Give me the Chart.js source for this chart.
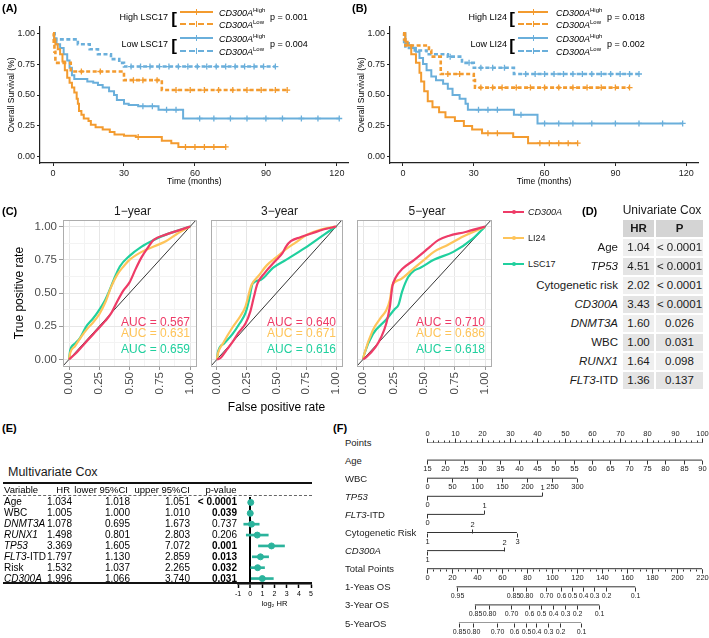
<!DOCTYPE html>
<html>
<head>
<meta charset="utf-8">
<script src="https://cdn.jsdelivr.net/npm/chart.js@4.4.1/dist/chart.umd.min.js"></script>
<style>
body { margin: 0; background: #fff; }
#fig { position: relative; width: 709px; height: 638px; overflow: hidden; font-family: "Liberation Sans", Arial, sans-serif; color: #000; }
canvas { position: absolute; }
.t { position: absolute; white-space: nowrap; line-height: 1; }
.t sup { font-size: 6px; vertical-align: 4px; font-style: normal; }
</style>
</head>
<body>
<div id="fig">
  <canvas id="kmA" width="354" height="190" style="left:0;top:0"></canvas>
  <canvas id="kmB" width="359" height="190" style="left:350px;top:0"></canvas>
  <canvas id="roc1" width="206" height="215" style="left:0;top:200px"></canvas>
  <canvas id="roc3" width="146" height="215" style="left:206px;top:200px"></canvas>
  <canvas id="roc5" width="149" height="215" style="left:352px;top:200px"></canvas>
  <canvas id="forest" width="90" height="120" style="left:230px;top:490px"></canvas>
  <canvas id="nomo" width="289" height="213" style="left:420px;top:425px"></canvas>
</div>
<script>

// =======================
// DATA
// =======================

const kmTicksX = [0, 30, 60, 90, 120];
const kmTicksY = [0, 0.25, 0.5, 0.75, 1];

// (A) LSC17 groups
const aHighHighT = [0, 0.5, 1, 2, 3, 4, 5, 6, 7, 8, 9, 10, 10.5, 11, 12, 13, 15, 16, 18, 21, 24, 26, 30, 35, 46, 50, 53, 73];
const aHighHighS = [1, 0.95, 0.91, 0.87, 0.83, 0.77, 0.7, 0.64, 0.6, 0.56, 0.52, 0.47, 0.43, 0.37, 0.34, 0.31, 0.29, 0.26, 0.24, 0.22, 0.2, 0.18, 0.17, 0.16, 0.13, 0.11, 0.08, 0.08];
const aHighHighCens = [36, 56, 60, 64, 68, 73];
const aHighLowT = [0, 0.3, 0.6, 1, 7.5, 30, 46, 99];
const aHighLowS = [1, 0.92, 0.85, 0.76, 0.69, 0.62, 0.54, 0.54];
const aHighLowCens = [12, 20, 34, 38, 44, 52, 58, 64, 70, 76, 82, 88, 94, 99];
const aLowHighT = [0, 0.5, 1.5, 3, 4.5, 6, 7, 8, 9, 14.5, 17, 19, 21, 23.7, 25.8, 27, 30, 32, 36, 44.6, 55, 121];
const aLowHighS = [1, 0.96, 0.91, 0.88, 0.83, 0.78, 0.72, 0.66, 0.63, 0.61, 0.6, 0.58, 0.56, 0.53, 0.5, 0.46, 0.43, 0.42, 0.41, 0.38, 0.31, 0.31];
const aLowHighCens = [38, 42, 48, 52, 62, 68, 75, 82, 90, 97, 105, 112, 121];
const aLowLowT = [0, 0.7, 10.5, 15.5, 19, 24.5, 28, 30, 94];
const aLowLowS = [1, 0.95, 0.91, 0.87, 0.83, 0.79, 0.76, 0.73, 0.73];
const aLowLowCens = [33, 37, 41, 45, 49, 53, 57, 61, 65, 69, 73, 77, 81, 85, 89, 94];

// (B) LI24 groups
const bHighHighT = [0, 1, 2, 3.5, 5.5, 7, 7.7, 9, 10.5, 12.5, 15.3, 18, 22, 25.8, 29.3, 33.5, 46.7, 53, 74];
const bHighHighS = [1, 0.93, 0.9, 0.83, 0.76, 0.68, 0.61, 0.53, 0.45, 0.4, 0.36, 0.32, 0.29, 0.25, 0.22, 0.19, 0.16, 0.11, 0.11];
const bHighHighCens = [36, 40, 58, 62, 66, 70, 74];
const bHighLowT = [0, 0.5, 1, 11, 12, 16, 30, 30.5, 96];
const bHighLowS = [1, 0.95, 0.9, 0.86, 0.81, 0.67, 0.62, 0.56, 0.56];
const bHighLowCens = [19, 24, 33, 38, 42, 48, 54, 60, 66, 72, 78, 84, 90, 96];
const bLowHighT = [0, 1, 2.5, 4, 5.5, 7, 8.5, 10, 12, 14, 17, 19, 21, 24, 26.5, 27.5, 46, 47, 56, 57, 118.5];
const bLowHighS = [1, 0.92, 0.9, 0.88, 0.85, 0.8, 0.75, 0.7, 0.65, 0.62, 0.59, 0.55, 0.5, 0.47, 0.43, 0.38, 0.38, 0.34, 0.34, 0.27, 0.27];
const bLowHighCens = [32, 36, 40, 50, 60, 66, 72, 80, 90, 100, 110, 118.5];
const bLowLowT = [0, 0.5, 1, 5, 10, 19, 25, 30, 47, 100];
const bLowLowS = [1, 0.93, 0.88, 0.86, 0.83, 0.81, 0.76, 0.72, 0.67, 0.67];
const bLowLowCens = [20, 28, 33, 38, 43, 52, 56, 60, 64, 68, 72, 76, 80, 84, 88, 92, 96, 100];

// (C) ROC curves
const rocTicks = [0, 0.125, 0.25, 0.375, 0.5, 0.625, 0.75, 0.875, 1];
const cd300a1yFpr = [0, 0.05, 0.1, 0.2, 0.3, 0.35, 0.4, 0.45, 0.5, 0.55, 0.6, 0.65, 0.7, 0.8, 0.9, 1];
const cd300a1yTpr = [0, 0.04, 0.09, 0.19, 0.29, 0.35, 0.44, 0.52, 0.58, 0.68, 0.77, 0.84, 0.9, 0.94, 0.97, 1];
const li241yFpr = [0, 0.01, 0.05, 0.1, 0.15, 0.2, 0.25, 0.3, 0.35, 0.4, 0.45, 0.5, 0.6, 0.7, 0.8, 0.9, 1];
const li241yTpr = [0, 0.05, 0.1, 0.17, 0.23, 0.28, 0.34, 0.43, 0.55, 0.64, 0.7, 0.75, 0.81, 0.85, 0.89, 0.95, 1];
const lsc171yFpr = [0, 0.01, 0.05, 0.09, 0.14, 0.2, 0.24, 0.3, 0.33, 0.37, 0.42, 0.5, 0.6, 0.7, 0.8, 0.9, 1];
const lsc171yTpr = [0, 0.07, 0.12, 0.16, 0.245, 0.31, 0.36, 0.45, 0.51, 0.6, 0.7, 0.78, 0.85, 0.9, 0.94, 0.97, 1];

const cd300a3yFpr = [0, 0.03, 0.08, 0.13, 0.18, 0.24, 0.28, 0.31, 0.34, 0.4, 0.5, 0.55, 0.58, 0.62, 0.7, 0.8, 0.9, 1];
const cd300a3yTpr = [0, 0.01, 0.07, 0.13, 0.2, 0.27, 0.36, 0.47, 0.57, 0.65, 0.75, 0.8, 0.85, 0.89, 0.92, 0.95, 0.98, 1];
const li243yFpr = [0, 0.01, 0.05, 0.13, 0.2, 0.24, 0.29, 0.35, 0.42, 0.5, 0.58, 0.66, 0.76, 0.88, 1];
const li243yTpr = [0, 0.05, 0.12, 0.24, 0.33, 0.4, 0.56, 0.63, 0.71, 0.77, 0.83, 0.88, 0.94, 0.98, 1];
const lsc173yFpr = [0, 0.01, 0.06, 0.13, 0.19, 0.24, 0.27, 0.3, 0.37, 0.47, 0.58, 0.74, 0.9, 1];
const lsc173yTpr = [0, 0.06, 0.12, 0.19, 0.27, 0.35, 0.45, 0.57, 0.6, 0.69, 0.75, 0.84, 0.94, 1];

const cd300a5yFpr = [0, 0.03, 0.1, 0.15, 0.19, 0.22, 0.24, 0.27, 0.32, 0.42, 0.5, 0.55, 0.62, 0.7, 0.84, 1];
const cd300a5yTpr = [0, 0.02, 0.09, 0.17, 0.27, 0.4, 0.55, 0.62, 0.68, 0.75, 0.81, 0.85, 0.9, 0.93, 0.96, 1];
const li245yFpr = [0, 0.01, 0.08, 0.15, 0.19, 0.22, 0.24, 0.3, 0.42, 0.5, 0.58, 0.69, 0.82, 1];
const li245yTpr = [0, 0.04, 0.22, 0.32, 0.37, 0.45, 0.56, 0.6, 0.69, 0.75, 0.81, 0.86, 0.925, 1];
const lsc175yFpr = [0, 0.01, 0.08, 0.19, 0.26, 0.29, 0.32, 0.37, 0.42, 0.47, 0.58, 0.74, 0.9, 1];
const lsc175yTpr = [0, 0.04, 0.19, 0.3, 0.38, 0.41, 0.51, 0.62, 0.67, 0.69, 0.75, 0.81, 0.91, 1];

const auc1y = ["AUC = 0.567", "AUC = 0.631", "AUC = 0.659"];
const auc3y = ["AUC = 0.640", "AUC = 0.671", "AUC = 0.616"];
const auc5y = ["AUC = 0.710", "AUC = 0.686", "AUC = 0.618"];

// (D) univariate Cox
const uniVars = ["Age", "<i>TP53</i>", "Cytogenetic risk", "<i>CD300A</i>", "<i>DNMT3A</i>", "WBC", "<i>RUNX1</i>", "<i>FLT3</i>-ITD"];
const uniHR = ["1.04", "4.51", "2.02", "3.43", "1.60", "1.00", "1.64", "1.36"];
const uniP = ["< 0.0001", "< 0.0001", "< 0.0001", "< 0.0001", "0.026", "0.031", "0.098", "0.137"];

// (E) multivariate Cox
const mvVars = ["Age", "WBC", "<i>DNMT3A</i>", "<i>RUNX1</i>", "<i>TP53</i>", "<i>FLT3</i>-ITD", "Risk", "<i>CD300A</i>"];
const mvHR = [1.034, 1.005, 1.078, 1.498, 3.369, 1.797, 1.532, 1.996];
const mvLower = [1.018, 1.000, 0.695, 0.801, 1.605, 1.130, 1.037, 1.066];
const mvUpper = [1.051, 1.010, 1.673, 2.803, 7.072, 2.859, 2.265, 3.740];
const mvP = ["< 0.0001", "0.039", "0.737", "0.206", "0.001", "0.013", "0.032", "0.031"];
const mvBold = [true, true, false, false, true, true, true, true];
const forestTicks = [-1, 0, 1, 2, 3, 4, 5];

// (F) nomogram
const nomoNames = ["Points", "Age", "WBC", "<i>TP53</i>", "<i>FLT3</i>-ITD", "Cytogenetic Risk", "<i>CD300A</i>", "Total Points", "1-Yeas OS", "3-Year OS", "5-YearOS"];
const pointsTicks = [0, 10, 20, 30, 40, 50, 60, 70, 80, 90, 100];
const ageTicks = [15, 20, 25, 30, 35, 40, 45, 50, 55, 60, 65, 70, 75, 80, 85, 90];
const wbcTicks = [0, 50, 100, 150, 200, 250, 300];
const wbcMaxPts = 54.5;
const tp53Ticks = [0, 1], tp53Pts = [0, 41.8], tp53Side = ["b", "a"];
const flt3Ticks = [0, 1], flt3Pts = [0, 20.7], flt3Side = ["b", "a"];
const cytoTicks = [1, 2, 3], cytoPts = [0, 16.4, 32.7], cytoSide = ["b", "a", "b"];
const cd300aTicks = [1, 2], cd300aPts = [0, 28.0], cd300aSide = ["b", "a"];
const totalTicks = [0, 20, 40, 60, 80, 100, 120, 140, 160, 180, 200, 220];
const os1Labels = ["0.95", "0.85", "0.80", "0.70", "0.6", "0.5", "0.4", "0.3", "0.2", "0.1"];
const os1Total = [23.6, 68.8, 79.4, 94.9, 107.1, 115.9, 124.6, 133.4, 143.2, 166.6];
const os3Labels = ["0.85", "0.80", "0.70", "0.6", "0.5", "0.4", "0.3", "0.2", "0.1"];
const os3Total = [38.3, 49.6, 67.5, 81.3, 91.4, 100.7, 110.0, 119.8, 137.9];
const os5Labels = ["0.85", "0.80", "0.70", "0.6", "0.5", "0.4", "0.3", "0.2", "0.1"];
const os5Total = [25.5, 36.8, 55.6, 69.3, 79.2, 87.4, 96.7, 106.3, 123.3];

// =======================
// COLORS / HELPERS
// =======================

const ORANGE = "#F39B2F", BLUE = "#6AAFDB";
const RED = "#EE3B67", YELLOW = "#FEC45A", GREEN = "#20D09E", TEAL = "#2BB39C";
const FONT = '"Liberation Sans", Arial, sans-serif';

Chart.defaults.font.family = FONT;
Chart.defaults.animation = false;

const fig = document.getElementById("fig");

function txt(x, y, html, o = {}) {
  const d = document.createElement("div");
  d.className = "t";
  d.innerHTML = html;
  d.style.left = x + "px";
  d.style.top = y + "px";
  const a = o.a || "l";
  d.style.transform = "translate(" + (a === "l" ? "0" : a === "c" ? "-50%" : "-100%") + ",-50%)";
  d.style.fontSize = (o.s || 10) + "px";
  if (o.b) d.style.fontWeight = "bold";
  if (o.c) d.style.color = o.c;
  fig.appendChild(d);
  return d;
}

function box(x, y, w, h, css) {
  const d = document.createElement("div");
  d.style.cssText = "position:absolute;left:" + x + "px;top:" + y + "px;width:" + w + "px;height:" + h + "px;" + (css || "");
  fig.appendChild(d);
  return d;
}

function survAt(t, s, x) {
  let v = s[0];
  for (let i = 0; i < t.length; i++) if (t[i] <= x) v = s[i];
  return v;
}

const fixedTicks = vals => s => { s.ticks = vals.map(v => ({ value: v })); };

// =======================
// (A) (B) KAPLAN-MEIER
// =======================

function kmChart(id, curves, padRight) {
  const ds = [];
  curves.forEach(c => {
    ds.push({
      data: c.t.map((t, i) => ({ x: t, y: c.s[i] })),
      borderColor: c.col, borderWidth: c.dash ? 2.6 : 2,
      borderDash: c.dash ? [4, 2.5] : [], stepped: true, pointRadius: 0
    });
    ds.push({
      data: c.cens.map(t => ({ x: t, y: survAt(c.t, c.s, t) })),
      showLine: false, pointStyle: "cross", pointRadius: 3,
      pointBorderWidth: 1.3, borderColor: c.col
    });
  });

  const grid = { display: true, drawOnChartArea: false, drawTicks: true, tickLength: 3, tickColor: "#222" };
  const border = { display: true, color: "#222", width: 1.2 };

  return new Chart(document.getElementById(id), {
    type: "line",
    data: { datasets: ds },
    options: {
      responsive: false,
      layout: { padding: { top: 27, right: padRight, left: 0, bottom: 0 } },
      plugins: { legend: { display: false }, tooltip: { enabled: false } },
      scales: {
        x: {
          type: "linear", min: -5.5, max: 125,
          afterBuildTicks: fixedTicks(kmTicksX),
          afterFit: s => { s.height = 27; },
          ticks: { font: { size: 9 }, color: "#222", padding: 2, maxRotation: 0 },
          grid, border,
          title: { display: true, text: "Time (months)", font: { size: 8.5 }, color: "#000", padding: { top: 0, bottom: 3 } }
        },
        y: {
          min: -0.05, max: 1.05,
          afterBuildTicks: fixedTicks(kmTicksY),
          afterFit: s => { s.width = 40; },
          ticks: { font: { size: 9 }, color: "#222", padding: 2, callback: v => v.toFixed(2) },
          grid, border,
          title: { display: true, text: "Overall Survival (%)", font: { size: 8.5 }, color: "#000", padding: { top: 7, bottom: 0 } }
        }
      }
    }
  });
}

kmChart("kmA", [
  { t: aHighHighT, s: aHighHighS, cens: aHighHighCens, col: ORANGE },
  { t: aHighLowT, s: aHighLowS, cens: aHighLowCens, col: ORANGE, dash: true },
  { t: aLowHighT, s: aLowHighS, cens: aLowHighCens, col: BLUE },
  { t: aLowLowT, s: aLowLowS, cens: aLowLowCens, col: BLUE, dash: true }
], 4);

kmChart("kmB", [
  { t: bHighHighT, s: bHighHighS, cens: bHighHighCens, col: ORANGE },
  { t: bHighLowT, s: bHighLowS, cens: bHighLowCens, col: ORANGE, dash: true },
  { t: bLowHighT, s: bLowHighS, cens: bLowHighCens, col: BLUE },
  { t: bLowLowT, s: bLowLowS, cens: bLowLowCens, col: BLUE, dash: true }
], 11);

// custom KM legends
function kmLegend(L) {
  L.groups.forEach(g => {
    txt(L.labelRight, g.y, g.label, { s: 9, a: "r" });
    txt(L.bracketX, g.y + 1, "[", { s: 17, a: "c", b: true });
    [g.y1, g.y2].forEach((yy, k) => {
      box(L.x1, yy - 1, L.x2 - L.x1, 0, "border-top:2px " + (k ? "dashed " : "solid ") + g.col);
      box((L.x1 + L.x2) / 2 - 0.5, yy - 3, 1.3, 6, "background:" + g.col);
      txt(L.textX, yy, "<i>CD300A</i><sup>" + (k ? "Low" : "High") + "</sup>", { s: 9 });
    });
    txt(L.pX, g.y, g.p, { s: 9 });
  });
}

kmLegend({
  labelRight: 168, bracketX: 174, x1: 180, x2: 213, textX: 219, pX: 270,
  groups: [
    { label: "High LSC17", y: 17, y1: 12, y2: 24, col: ORANGE, p: "p = 0.001" },
    { label: "Low LSC17", y: 44, y1: 38, y2: 51, col: BLUE, p: "p = 0.004" }
  ]
});
kmLegend({
  labelRight: 507, bracketX: 512, x1: 518, x2: 548, textX: 556, pX: 607,
  groups: [
    { label: "High LI24", y: 17, y1: 12, y2: 24, col: ORANGE, p: "p = 0.018" },
    { label: "Low LI24", y: 44, y1: 38, y2: 51, col: BLUE, p: "p = 0.002" }
  ]
});

// =======================
// (C) ROC FACETS
// =======================

const isMajor = v => Math.abs(v * 4 - Math.round(v * 4)) < 1e-6;

const panelBox = {
  id: "panelBox",
  afterDraw(chart) {
    const { ctx, chartArea: a } = chart;
    ctx.save();
    ctx.strokeStyle = "#adadad";
    ctx.lineWidth = 1;
    ctx.strokeRect(Math.round(a.left) + 0.5, Math.round(a.top) + 0.5, Math.round(a.right - a.left), Math.round(a.bottom - a.top));
    ctx.restore();
  }
};

const aucText = {
  id: "aucText",
  afterDatasetsDraw(chart, args, opts) {
    const { ctx, scales: { x, y } } = chart;
    ctx.save();
    ctx.font = "12px " + FONT;
    ctx.textAlign = "right";
    ctx.textBaseline = "middle";
    opts.lines.forEach((l, i) => {
      ctx.fillStyle = opts.colors[i];
      ctx.fillText(l, x.getPixelForValue(1), y.getPixelForValue(opts.ys[i]));
    });
    ctx.restore();
  }
};

function rocChart(id, curves, auc, first, mid) {
  const ds = curves.map(c => ({
    data: c.f.map((f, i) => ({ x: f, y: c.t[i] })),
    borderColor: c.col, borderWidth: 2.2, pointRadius: 0,
    cubicInterpolationMode: "monotone"
  }));
  ds.push({ data: [{ x: -0.05, y: -0.05 }, { x: 1.05, y: 1.05 }], borderColor: "#000", borderWidth: 0.8, pointRadius: 0 });

  const gridCol = c => isMajor(c.tick.value) ? "#e6e6e6" : "#f3f3f3";
  return new Chart(document.getElementById(id), {
    type: "line",
    data: { datasets: ds },
    plugins: [panelBox, aucText],
    options: {
      responsive: false,
      layout: { padding: { top: 20, right: 4, left: 0, bottom: 0 } },
      plugins: {
        legend: { display: false }, tooltip: { enabled: false },
        aucText: { lines: auc, colors: [RED, YELLOW, GREEN], ys: [0.28, 0.19, 0.075] }
      },
      scales: {
        x: {
          type: "linear", min: -0.05, max: 1.05,
          afterBuildTicks: fixedTicks(rocTicks),
          afterFit: s => { s.height = 49; },
          ticks: { autoSkip: false, minRotation: 90, maxRotation: 90, font: { size: 11.5 }, color: "#4d4d4d", padding: 2,
                   callback: v => isMajor(v) ? v.toFixed(2) : "" },
          grid: { color: gridCol, tickLength: 4, tickColor: c => isMajor(c.tick.value) ? "#999" : "rgba(0,0,0,0)" },
          border: { display: true, color: "#adadad" },
          title: { display: mid, text: "False positive rate", font: { size: 12 }, color: "#000", padding: { top: 0, bottom: 0 } }
        },
        y: {
          min: -0.05, max: 1.05,
          afterBuildTicks: fixedTicks(rocTicks),
          afterFit: s => { s.width = first ? 63 : 5; },
          ticks: { display: first, autoSkip: false, font: { size: 11.5 }, color: "#4d4d4d", padding: 2,
                   callback: v => isMajor(v) ? v.toFixed(2) : "" },
          grid: { color: gridCol, drawTicks: first, tickLength: 4, tickColor: c => isMajor(c.tick.value) ? "#999" : "rgba(0,0,0,0)" },
          border: { display: true, color: "#adadad" },
          title: { display: first, text: "True positive rate", font: { size: 12 }, color: "#000", padding: { top: 12, bottom: 0 } }
        }
      }
    }
  });
}

rocChart("roc1", [
  { f: cd300a1yFpr, t: cd300a1yTpr, col: RED },
  { f: li241yFpr, t: li241yTpr, col: YELLOW },
  { f: lsc171yFpr, t: lsc171yTpr, col: GREEN }
], auc1y, true, false);
rocChart("roc3", [
  { f: cd300a3yFpr, t: cd300a3yTpr, col: RED },
  { f: li243yFpr, t: li243yTpr, col: YELLOW },
  { f: lsc173yFpr, t: lsc173yTpr, col: GREEN }
], auc3y, false, true);
rocChart("roc5", [
  { f: cd300a5yFpr, t: cd300a5yTpr, col: RED },
  { f: li245yFpr, t: li245yTpr, col: YELLOW },
  { f: lsc175yFpr, t: lsc175yTpr, col: GREEN }
], auc5y, false, false);

txt(132.5, 211, "1\u2212year", { s: 12, a: "c", c: "#1a1a1a" });
txt(279.5, 211, "3\u2212year", { s: 12, a: "c", c: "#1a1a1a" });
txt(427, 211, "5\u2212year", { s: 12, a: "c", c: "#1a1a1a" });

[["<i>CD300A</i>", RED, 212], ["LI24", YELLOW, 238], ["LSC17", GREEN, 264]].forEach(([lab, col, yy]) => {
  box(503, yy - 1, 21, 2, "background:" + col);
  box(511.5, yy - 2, 4, 4, "background:" + col + ";border-radius:2px");
  txt(528, yy, lab, { s: 9, c: "#1a1a1a" });
});

// =======================
// (D) UNIVARIATE TABLE
// =======================

txt(662, 210, "Univariate Cox", { s: 12, a: "c", c: "#1a1a1a" });
box(623, 220, 31, 17, "background:#d4d4d4");
box(656, 220, 47, 17, "background:#d4d4d4");
txt(638.5, 228.5, "HR", { s: 11.5, a: "c", b: true, c: "#1a1a1a" });
txt(679.5, 228.5, "P", { s: 11.5, a: "c", b: true, c: "#1a1a1a" });
uniVars.forEach((v, i) => {
  const top = 239 + i * 19;
  const bg = i % 2 ? "#e4e4e4" : "#efefef";
  box(623, top, 31, 17, "background:" + bg);
  box(656, top, 47, 17, "background:" + bg);
  txt(618, top + 8.5, v, { s: 11.5, a: "r", c: "#1a1a1a" });
  txt(638.5, top + 8.5, uniHR[i], { s: 11.5, a: "c", c: "#1a1a1a" });
  txt(679.5, top + 8.5, uniP[i], { s: 11.5, a: "c", c: "#1a1a1a" });
});

// =======================
// (E) MULTIVARIATE TABLE + FOREST
// =======================

txt(8, 472, "Multivariate Cox", { s: 12.5, c: "#1a1a1a" });
box(3, 482, 309, 2, "background:#111");
box(3, 582, 309, 2, "background:#111");
box(3, 495, 309, 0, "border-top:1px dashed #666");
txt(4, 490, "Variable", { s: 9.5 });
txt(70, 490, "HR", { s: 9.5, a: "r" });
txt(128, 490, "lower 95%CI", { s: 9.5, a: "r" });
txt(190, 490, "upper 95%CI", { s: 9.5, a: "r" });
txt(221, 490, "p-value", { s: 9.5, a: "c" });
mvVars.forEach((v, i) => {
  const yy = 502.4 + i * 10.875;
  txt(4, yy, v, { s: 10 });
  txt(72, yy, mvHR[i].toFixed(3), { s: 10, a: "r" });
  txt(130, yy, mvLower[i].toFixed(3), { s: 10, a: "r" });
  txt(190, yy, mvUpper[i].toFixed(3), { s: 10, a: "r" });
  txt(237, yy, mvP[i], { s: 10, a: "r", b: mvBold[i] });
});

new Chart(document.getElementById("forest"), {
  type: "bar",
  data: {
    labels: mvVars.map(s => s.replace(/<[^>]+>/g, "")),
    datasets: [
      { type: "line", indexAxis: "y", data: mvHR.map(Math.log2), showLine: false, pointRadius: 3,
        pointBackgroundColor: TEAL, pointBorderColor: TEAL, borderColor: TEAL },
      { data: mvLower.map((l, i) => [Math.log2(l), Math.log2(mvUpper[i])]), backgroundColor: TEAL,
        barThickness: 2, borderSkipped: false }
    ]
  },
  options: {
    indexAxis: "y",
    responsive: false,
    layout: { padding: { top: 7, right: 9, left: 8, bottom: 0 } },
    plugins: { legend: { display: false }, tooltip: { enabled: false } },
    scales: {
      x: {
        type: "linear", min: -1, max: 5,
        afterBuildTicks: fixedTicks(forestTicks),
        afterFit: s => { s.height = 26; },
        ticks: { font: { size: 7 }, color: "#000", padding: 2, autoSkip: false, minRotation: 0, maxRotation: 0 },
        grid: { color: c => c.tick.value === 0 ? "#000" : "rgba(0,0,0,0)", lineWidth: c => c.tick.value === 0 ? 2 : 1,
                tickLength: 4, tickColor: "#000", tickWidth: 1.5 },
        border: { display: true, color: "#000", width: 1.5 },
        title: { display: true, text: "log\u2082 HR", font: { size: 7.5 }, color: "#000", padding: { top: 0, bottom: 1.5 } }
      },
      y: { type: "category", display: false }
    }
  }
});

// =======================
// (F) NOMOGRAM
// =======================

const pointsMinor = [], totalMinor = [];
for (let v = 0; v <= 100; v += 2) pointsMinor.push(v);
for (let v = 0; v <= 220; v += 5) totalMinor.push(v * 100 / 220);

const nomoRows = [
  { labels: pointsTicks.map(String), pos: pointsTicks, up: true, minor: pointsMinor },
  { labels: ageTicks.map(String), pos: ageTicks.map(a => (a - 15) / 75 * 100) },
  { labels: wbcTicks.map(String), pos: wbcTicks.map(w => w / 300 * wbcMaxPts) },
  { labels: tp53Ticks.map(String), pos: tp53Pts, side: tp53Side },
  { labels: flt3Ticks.map(String), pos: flt3Pts, side: flt3Side },
  { labels: cytoTicks.map(String), pos: cytoPts, side: cytoSide },
  { labels: cd300aTicks.map(String), pos: cd300aPts, side: cd300aSide },
  { labels: totalTicks.map(String), pos: totalTicks.map(v => v * 100 / 220), minor: totalMinor },
  { labels: os1Labels, pos: os1Total.map(v => v * 100 / 220) },
  { labels: os3Labels, pos: os3Total.map(v => v * 100 / 220) },
  { labels: os5Labels, pos: os5Total.map(v => v * 100 / 220) }
];

const nomoTicks = {
  id: "nomoTicks",
  afterDatasetsDraw(chart) {
    const { ctx, scales: { x, y } } = chart;
    ctx.save();
    ctx.strokeStyle = "#333";
    ctx.fillStyle = "#222";
    ctx.lineWidth = 1;
    ctx.textAlign = "center";
    ctx.textBaseline = "middle";
    nomoRows.forEach((r, i) => {
      const py = Math.round(y.getPixelForValue(i)) + 0.5;
      ctx.font = (i >= 8 ? "7px " : "7.5px ") + FONT;
      (r.minor || []).forEach(v => {
        const px = Math.round(x.getPixelForValue(v)) + 0.5;
        ctx.beginPath(); ctx.moveTo(px, py); ctx.lineTo(px, py + (r.up ? -2 : 2)); ctx.stroke();
      });
      r.pos.forEach((v, j) => {
        const px = Math.round(x.getPixelForValue(v)) + 0.5;
        const up = r.side ? r.side[j] === "a" : !!r.up;
        ctx.beginPath(); ctx.moveTo(px, py); ctx.lineTo(px, py + (up ? -4 : 4)); ctx.stroke();
        ctx.fillText(r.labels[j], px, py + (up ? -8.5 : 8.5));
      });
    });
    ctx.restore();
  }
};

new Chart(document.getElementById("nomo"), {
  type: "scatter",
  data: {
    datasets: nomoRows.map((r, i) => ({
      data: [{ x: r.pos[0], y: i }, { x: r.pos[r.pos.length - 1], y: i }],
      showLine: true, borderColor: "#333", borderWidth: 1, pointRadius: 0
    }))
  },
  plugins: [nomoTicks],
  options: {
    responsive: false,
    layout: { padding: { top: 17, right: 7, left: 7, bottom: 15 } },
    plugins: { legend: { display: false }, tooltip: { enabled: false } },
    scales: {
      x: { type: "linear", min: 0, max: 100, display: false },
      y: { type: "linear", min: 0, max: 10, reverse: true, display: false }
    }
  }
});

nomoNames.forEach((n, i) => txt(345, 442.5 + i * 18.1, n, { s: 9.5, c: "#222" }));

// =======================
// PANEL LETTERS
// =======================

txt(2, 8, "(A)", { s: 11, b: true });
txt(352, 8, "(B)", { s: 11, b: true });
txt(2, 211, "(C)", { s: 11, b: true });
txt(582, 211, "(D)", { s: 11, b: true });
txt(2, 428, "(E)", { s: 11, b: true });
txt(333, 428, "(F)", { s: 11, b: true });

</script>
</body>
</html>
